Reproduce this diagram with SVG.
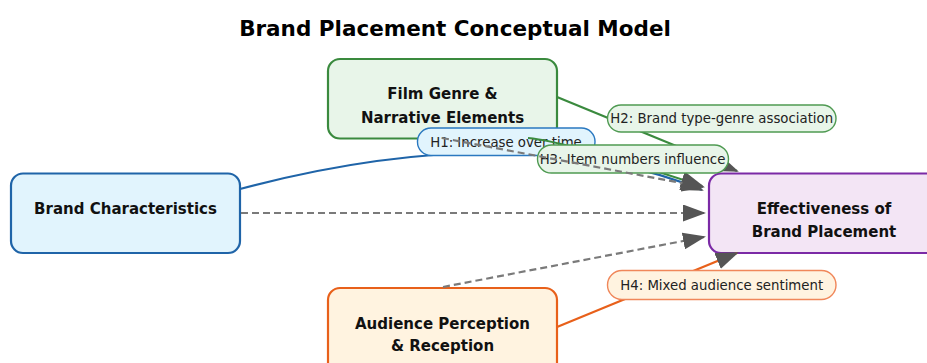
<svg xmlns="http://www.w3.org/2000/svg" width="927" height="363" viewBox="0 0 927 363">
  <style>
    .title { font-family: "DejaVu Sans", "Liberation Sans", sans-serif; font-weight: bold; font-size: 21.5px; fill: #000; }
    .node-text { font-family: "DejaVu Sans", "Liberation Sans", sans-serif; font-weight: bold; font-size: 15px; fill: #111; text-anchor: middle; }
    .label-text { font-family: "DejaVu Sans", "Liberation Sans", sans-serif; font-size: 13.3px; fill: #222; text-anchor: middle; }
    .node { stroke-width: 2.2; }
    .edge { fill: none; stroke-width: 2.2; }
    .dashed { fill: none; stroke: #7a7a7a; stroke-width: 2.2; stroke-dasharray: 7 4; }
    .pill { stroke-width: 1.4; }
    .blue { stroke: #1f64a8; }
    .green { stroke: #3a8a3e; }
    .orange { stroke: #e8601a; }
  </style>
  <defs>
    <marker id="head" markerUnits="userSpaceOnUse" markerWidth="23" markerHeight="17" refX="21" refY="8.5" orient="auto">
      <path d="M0,0 L23,8.5 L0,17 z" fill="#555"/>
    </marker>
  </defs>

  <rect width="927" height="363" fill="#fff"/>
  <text class="title" x="455" y="36" text-anchor="middle">Brand Placement Conceptual Model</text>

  <!-- Nodes -->
  <g id="node-film">
    <rect class="node" x="328" y="59" width="229" height="79.5" rx="12" fill="#e8f5e9" stroke="#3a8a3e"/>
    <text class="node-text" x="442.5" y="99.3">Film Genre &amp;</text>
    <text class="node-text" x="442.5" y="122.7">Narrative Elements</text>
  </g>
  <g id="node-brand">
    <rect class="node" x="11" y="173.5" width="229" height="79.5" rx="12" fill="#e1f4fd" stroke="#1f64a8"/>
    <text class="node-text" x="125.5" y="214">Brand Characteristics</text>
  </g>
  <g id="node-effectiveness">
    <rect class="node" x="709" y="173.5" width="230" height="79.5" rx="12" fill="#f3e5f5" stroke="#7b2aa6"/>
    <text class="node-text" x="824" y="214">Effectiveness of</text>
    <text class="node-text" x="824" y="236.5">Brand Placement</text>
  </g>
  <g id="node-audience">
    <rect class="node" x="328" y="288" width="229" height="90" rx="12" fill="#fff3e0" stroke="#e8601a"/>
    <text class="node-text" x="442.5" y="328.5">Audience Perception</text>
    <text class="node-text" x="442.5" y="351">&amp; Reception</text>
  </g>

  <!-- Connectors with their hypothesis labels -->
  <g id="connectors">
    <!-- H1: brand -> effectiveness -->
    <path class="edge blue" d="M240,189 C420,141 580,140 702,190" marker-end="url(#head)"/>
    <g id="label-h1">
      <rect class="pill" x="417.5" y="128" width="177.5" height="27.5" rx="13.5" fill="#e1f4fd" stroke="#2a78c0"/>
      <text class="label-text" x="506" y="146.5">H1: Increase over time</text>
    </g>

    <!-- H2: film genre -> effectiveness -->
    <path class="edge green" d="M557,97 L737,171" marker-end="url(#head)"/>
    <g id="label-h2">
      <rect class="pill" x="607.5" y="105" width="228.5" height="27" rx="13.5" fill="#e8f5e9" stroke="#4f9a52"/>
      <text class="label-text" x="721.7" y="123.3">H2: Brand type-genre association</text>
    </g>

    <!-- H3: film genre -> effectiveness -->
    <path class="edge green" d="M528,138 Q565,141 702,186" marker-end="url(#head)"/>
    <g id="label-h3">
      <rect class="pill" x="537.5" y="145" width="191" height="28" rx="14" fill="#e8f5e9" stroke="#4f9a52"/>
      <text class="label-text" x="632.5" y="163.5">H3: Item numbers influence</text>
    </g>

    <!-- H4: audience -> effectiveness -->
    <path class="edge orange" d="M557,327 L737,253" marker-end="url(#head)"/>
    <g id="label-h4">
      <rect class="pill" x="607.5" y="270.5" width="228.5" height="29" rx="14.5" fill="#fff3e0" stroke="#f0875a"/>
      <text class="label-text" x="721.7" y="290">H4: Mixed audience sentiment</text>
    </g>

    <!-- Direct influences (dashed) -->
    <path class="dashed" d="M442,138 L703,187" marker-end="url(#head)"/>
    <path class="dashed" d="M241,213 L704,213" marker-end="url(#head)"/>
    <path class="dashed" d="M443,287 L704,237" marker-end="url(#head)"/>
  </g>
</svg>
